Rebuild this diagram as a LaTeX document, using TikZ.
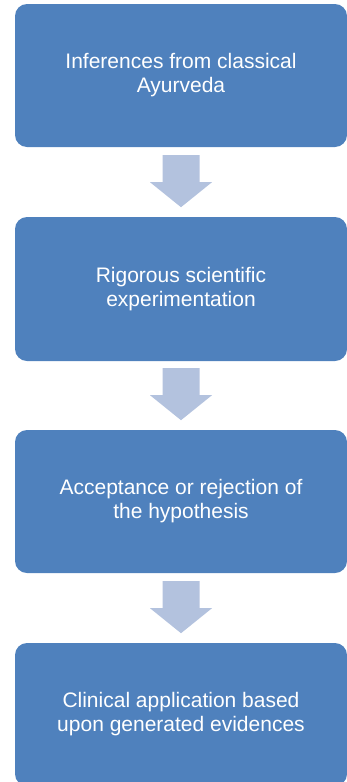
\documentclass[tikz,border=0pt]{standalone}
\usepackage{fontspec}
\setmainfont{Liberation Sans}
\usetikzlibrary{calc}
\definecolor{boxblue}{RGB}{79,129,189}
\definecolor{arrowblue}{RGB}{179,194,222}
\tikzset{
  stepbox/.style={rectangle, rounded corners=12pt, fill=boxblue, text=white,
    minimum width=332pt, align=center, inner sep=0pt,
    font=\fontsize{21pt}{24pt}\selectfont},
  blockarrow/.style={fill=arrowblue}
}
\newcommand\downblock[1]{%
  \fill[blockarrow] ($(#1)+(-18.5pt,0)$) -- ++(37pt,0) -- ++(0,-27pt) -- ++(12.5pt,0)
    -- ($(#1)+(0,-52pt)$) -- ($(#1)+(-31pt,-27pt)$) -- ++(12.5pt,0) -- cycle;}
\begin{document}
\begin{tikzpicture}[x=1pt,y=1pt]
\useasboundingbox (0,0) rectangle (347,-782);
\clip (0,0) rectangle (347,-782);
\node[stepbox, minimum height=143pt] (b1) at (181,-75.5) {Inferences from classical\\Ayurveda};
\node[stepbox, minimum height=144pt] (b2) at (181,-289) {Rigorous scientific\\experimentation};
\node[stepbox, minimum height=143pt] (b3) at (181,-501.5) {Acceptance or rejection of\\the hypothesis};
\node[stepbox, minimum height=143pt] (b4) at (181,-714.5) {Clinical application based\\upon generated evidences};
\coordinate (a1) at ($(b1.south)+(0,-8pt)$);
\coordinate (a2) at ($(b2.south)+(0,-7pt)$);
\coordinate (a3) at ($(b3.south)+(0,-8pt)$);
\downblock{a1}
\downblock{a2}
\downblock{a3}
\end{tikzpicture}
\end{document}
